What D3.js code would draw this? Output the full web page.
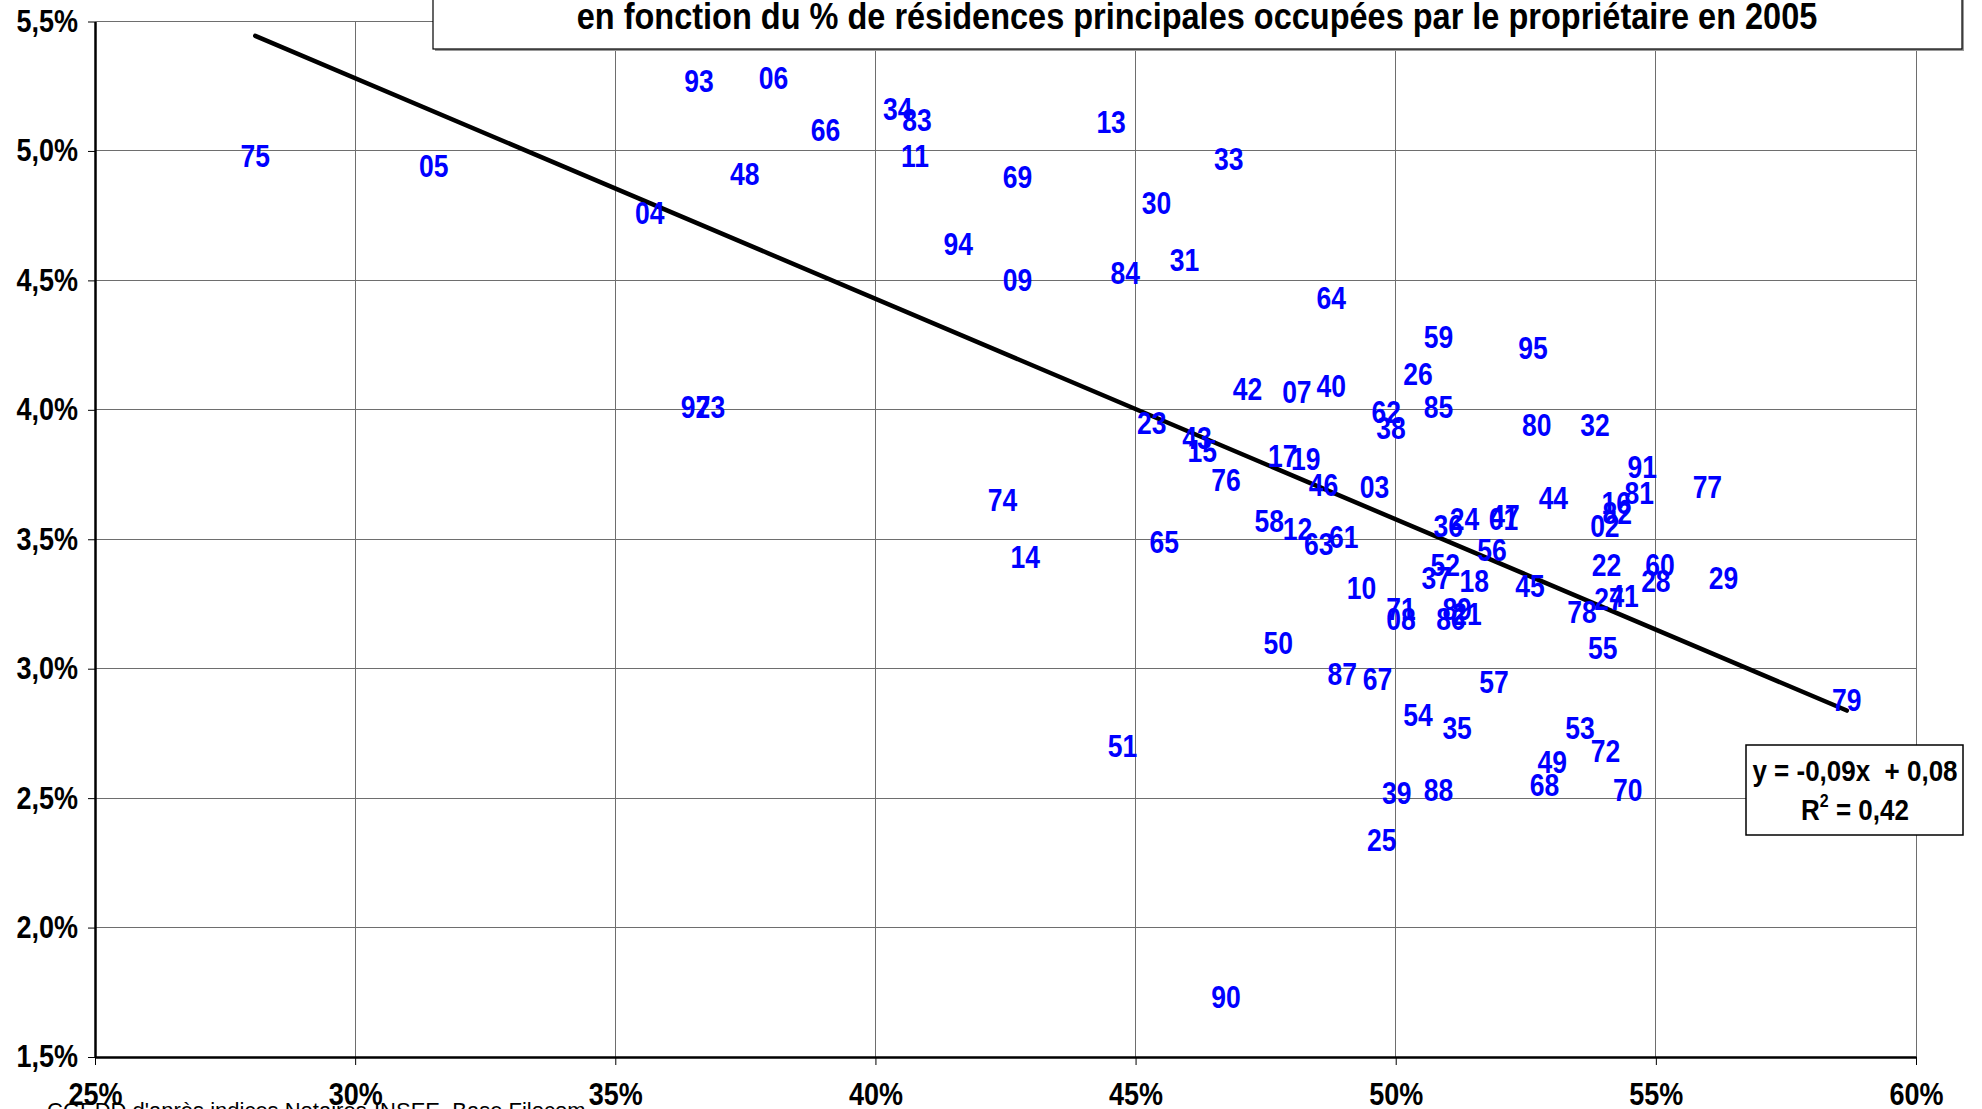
<!DOCTYPE html>
<html>
<head>
<meta charset="utf-8">
<script src="https://cdn.jsdelivr.net/npm/d3@7"></script>
<style>
  html, body { margin: 0; padding: 0; background: #fff; }
  svg { display: block; font-family: "Liberation Sans", Arial, sans-serif; }
</style>
</head>
<body>
<svg id="chart" width="1982" height="1109"></svg>
<script>
// departements
var deptCodes = ['01','02','03','04','05','06','07','08','09','10','11','12','13','14','15','16','17','18','19',
  '21','22','23','24','25','26','27','28','29','30','31','32','33','34','35','36','37','38','39','40',
  '41','42','43','44','45','46','47','48','49','50','51','52','53','54','55','56','57','58','59','60',
  '61','62','63','64','65','66','67','68','69','70','71','72','73','74','75','76','77','78','79','80',
  '81','82','83','84','85','86','87','88','89','90','91','92','93','94','95'];
// % residences principales occupees par le proprietaire (x)
var ownerRate = [52.07,54.02,49.59,35.66,31.51,38.04,48.10,50.10,42.73,49.34,40.76,48.11,44.53,42.88,46.28,54.24,47.83,51.51,48.27,
  51.37,54.05,45.31,51.32,49.73,50.43,54.10,55.00,56.30,45.40,45.94,53.83,46.79,40.43,51.18,51.01,50.78,49.91,50.02,48.76,
  54.39,47.15,46.18,53.03,52.58,48.61,52.10,37.49,53.01,47.74,44.75,50.95,53.54,50.43,53.98,51.85,51.89,47.57,50.82,55.08,
  49.00,49.82,48.52,48.76,45.55,39.04,49.65,52.86,42.73,54.46,50.10,54.03,36.83,42.44,28.08,46.74,55.99,53.58,58.67,52.71,
  54.68,54.26,40.80,44.80,50.82,51.06,48.97,50.82,51.18,46.74,54.74,36.54,36.61,41.59,52.64];
// rendement (y)
var yieldRate = [3.58,3.55,3.70,4.76,4.94,5.28,4.07,3.19,4.50,3.31,4.98,3.54,5.11,3.43,3.84,3.64,3.82,3.34,3.81,
  3.21,3.40,3.95,3.58,2.34,4.14,3.27,3.34,3.35,4.80,4.58,3.94,4.97,5.16,2.77,3.55,3.35,3.93,2.52,4.09,
  3.28,4.08,3.89,3.66,3.32,3.71,3.59,4.91,2.64,3.10,2.70,3.40,2.77,2.82,3.08,3.46,2.95,3.57,4.28,3.40,
  3.51,3.99,3.48,4.43,3.49,5.08,2.96,2.55,4.90,2.53,3.23,2.68,4.01,3.65,4.98,3.73,3.70,3.22,2.88,3.94,
  3.68,3.60,5.12,4.53,4.01,3.19,2.98,2.53,3.23,1.73,3.78,4.01,5.27,4.64,4.24];

var xTicks = [25,30,35,40,45,50,55,60];
var yTicks = [1.5,2.0,2.5,3.0,3.5,4.0,4.5,5.0,5.5];

// courbe de tendance lineaire (en %)
var trendSlope = -0.0852;
var trendIntercept = 7.837;
var equationLines = ['y = -0,09x  + 0,08', 'R', '2', ' = 0,42'];
var titleText = 'en fonction du % de résidences principales occupées par le propriétaire en 2005';
var sourceText = "CGEDD d'après indices Notaires-INSEE, Base Filocom";

var svg = d3.select('#chart');
var plotLeft = 95, plotRight = 1916, plotTop = 21.5, plotBottom = 1057;
var stretch = 1.15; // texte un peu etire en hauteur comme dans l'original

var x = d3.scaleLinear().domain([25,60]).range([plotLeft,plotRight]);
var y = d3.scaleLinear().domain([1.5,5.5]).range([plotBottom,plotTop]);
var fr = d3.formatLocale({decimal: ',', thousands: ' ', grouping: [3], currency: ['', '€']});
var fmtY = function(d){ return fr.format('.1f')(d) + '%'; };
var fmtX = function(d){ return d + '%'; };

svg.append('rect').attr('width',1982).attr('height',1109).attr('fill','#fff');

// grille
var grid = svg.append('g').attr('shape-rendering','crispEdges');
grid.selectAll('line.h').data(yTicks).enter().append('line')
  .attr('x1',plotLeft).attr('x2',plotRight)
  .attr('y1',function(d){ return y(d); }).attr('y2',function(d){ return y(d); })
  .attr('stroke','#6e6e6e').attr('stroke-width',1);
grid.selectAll('line.v').data(xTicks).enter().append('line')
  .attr('y1',plotTop).attr('y2',plotBottom)
  .attr('x1',function(d){ return x(d); }).attr('x2',function(d){ return x(d); })
  .attr('stroke','#6e6e6e').attr('stroke-width',1);

// axes
var yAxis = svg.append('g').attr('transform','translate(' + plotLeft + ',0)')
  .call(d3.axisLeft(y).tickValues(yTicks).tickFormat(fmtY).tickSize(7).tickSizeOuter(0).tickPadding(10));
var xAxis = svg.append('g').attr('transform','translate(0,' + plotBottom + ')')
  .call(d3.axisBottom(x).tickValues(xTicks).tickFormat(fmtX).tickSize(8).tickSizeOuter(0).tickPadding(14.5));
[yAxis, xAxis].forEach(function(a){
  a.select('.domain').attr('stroke','#000').attr('stroke-width',2.5);
  a.selectAll('.tick line').attr('stroke','#000').attr('stroke-width',1);
  a.selectAll('text').attr('fill','#000').attr('font-size',27).attr('font-weight','bold')
    .attr('font-family','"Liberation Sans", Arial, sans-serif')
    .attr('transform','scale(1,' + stretch + ')');
});

// tendance
var xr = d3.extent(ownerRate);
svg.append('line')
  .attr('x1',x(xr[0])).attr('y1',y(trendSlope*xr[0] + trendIntercept))
  .attr('x2',x(xr[1])).attr('y2',y(trendSlope*xr[1] + trendIntercept))
  .attr('stroke','#000').attr('stroke-width',4.5).attr('stroke-linecap','round');

// etiquettes
svg.append('g').selectAll('text').data(deptCodes).enter().append('text')
  .attr('transform',function(d,i){
    return 'translate(' + x(ownerRate[i]) + ',' + y(yieldRate[i]) + ') scale(1,' + stretch + ')';
  })
  .attr('dy','0.36em')
  .attr('text-anchor','middle')
  .attr('font-size',26.5).attr('font-weight','bold').attr('fill','#0000ff')
  .text(function(d){ return d; });

// titre
svg.append('rect').attr('x',435).attr('y',-60).attr('width',1529).attr('height',111).attr('fill','#9a9a9a');
svg.append('rect').attr('x',433).attr('y',-60).attr('width',1529).attr('height',109)
  .attr('fill','#fff').attr('stroke','#000').attr('stroke-width',1.2);
svg.append('text').attr('transform','translate(1197,29) scale(1,' + stretch + ')').attr('text-anchor','middle')
  .attr('font-size',32.5).attr('font-weight','bold').attr('fill','#000')
  .text(titleText);

// equation
svg.append('rect').attr('x',1746).attr('y',745).attr('width',217).attr('height',90)
  .attr('fill','#fff').attr('stroke','#000').attr('stroke-width',1.5);
svg.append('text').attr('transform','translate(1855,781) scale(1,' + stretch + ')').attr('text-anchor','middle')
  .attr('font-size',26).attr('font-weight','bold').attr('xml:space','preserve')
  .text(equationLines[0]);
var r2 = svg.append('text').attr('transform','translate(1855,820) scale(1,' + stretch + ')').attr('text-anchor','middle')
  .attr('font-size',26).attr('font-weight','bold');
r2.append('tspan').text(equationLines[1]);
r2.append('tspan').attr('dy',-11).attr('font-size',16).text(equationLines[2]);
r2.append('tspan').attr('dy',11).text(equationLines[3]);

// source
svg.append('text').attr('x',47).attr('y',1118).attr('font-size',22).attr('fill','#000')
  .text(sourceText);
</script>
</body>
</html>
